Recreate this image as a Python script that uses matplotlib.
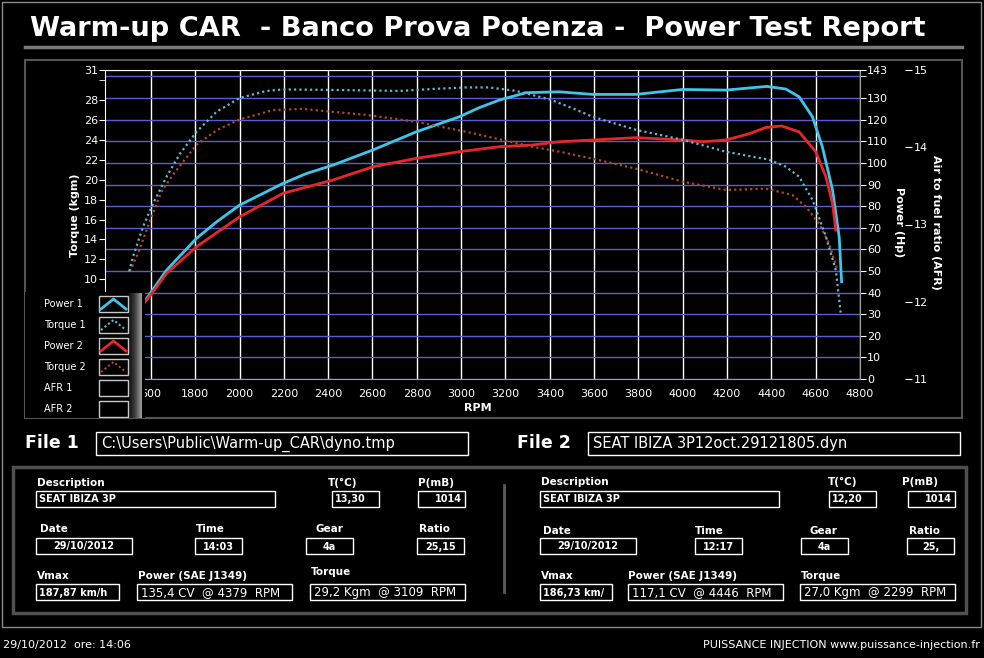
import matplotlib
matplotlib.use("Agg")
import numpy as np
import matplotlib.pyplot as plt
from matplotlib.patches import Rectangle
from matplotlib.colors import LinearSegmentedColormap
from matplotlib import font_manager

# dati
p1_rpm = [1520, 1550, 1671, 1806, 1900, 2001, 2196, 2300, 2422, 2602, 2798, 2993, 3080, 3173, 3293,
          3444, 3594, 3789, 3999, 4195, 4379, 4465, 4525, 4585, 4630, 4676, 4706, 4717]
p1_hp = [29.0, 32.7, 50.4, 65.1, 73.0, 80.5, 90.5, 95.0, 99.0, 106.0, 114.4, 121.4, 125.5, 129.1, 132.5,
         132.9, 131.7, 131.7, 134.0, 133.7, 135.4, 134.2, 130.6, 121.4, 107.5, 87.5, 65.8, 45.0]

t1_rpm = [1502, 1520, 1565, 1610, 1671, 1731, 1806, 1896, 2001, 2122, 2196, 2422, 2722, 2873, 3023,
          3128, 3248, 3399, 3504, 3594, 3789, 4000, 4195, 4390, 4465, 4525, 4585, 4646, 4691, 4713]
t1_kgm = [10.8, 12.3, 15.3, 17.6, 20.3, 22.6, 24.8, 26.8, 28.2, 28.9, 29.05, 29.0, 28.9, 29.1, 29.25,
          29.25, 28.9, 28.06, 27.15, 26.3, 25.0, 24.0, 22.8, 22.0, 21.3, 20.3, 18.0, 14.3, 10.9, 6.6]

p2_rpm = [1550, 1600, 1671, 1806, 2001, 2196, 2422, 2602, 2798, 2993, 3173, 3323, 3444, 3594, 3789,
          3999, 4090, 4195, 4300, 4375, 4446, 4525, 4600, 4646, 4676, 4691]
p2_hp = [32.7, 39.0, 48.9, 61.2, 75.1, 85.9, 92.1, 98.2, 102.1, 105.2, 107.5, 108.3, 109.8, 110.6, 111.7,
         110.6, 109.8, 110.6, 113.5, 116.4, 117.1, 114.4, 105.2, 93.6, 81.3, 68.9]

t2_rpm = [1505, 1540, 1590, 1648, 1700, 1806, 1900, 2001, 2151, 2287, 2422, 2572, 2798, 3023, 3203,
          3323, 3444, 3594, 3789, 4000, 4195, 4375, 4495, 4555, 4615, 4660, 4698]
t2_kgm = [10.8, 12.5, 15.5, 18.8, 20.5, 23.5, 25.0, 26.04, 26.98, 27.1, 26.8, 26.5, 25.8, 24.8, 23.9,
          23.3, 22.8, 22.1, 21.1, 19.8, 18.96, 19.1, 18.46, 17.3, 15.6, 13.6, 10.9]

rpm_ticks = list(range(1600, 4801, 200))
rpm_labels = ["600"] + [str(v) for v in range(1800, 4801, 200)]
power_ticks = [0, 10, 20, 30, 40, 50, 60, 70, 80, 90, 100, 110, 120, 130, 143]
torque_ticks = [10, 12, 14, 16, 18, 20, 22, 24, 26, 28, 31]
afr_ticks = [11, 12, 13, 14, 15]

legend_names = ["Power 1", "Torque 1", "Power 2", "Torque 2", "AFR 1", "AFR 2"]

title = "Warm-up CAR  - Banco Prova Potenza -  Power Test Report"
file1 = "C:\\Users\\Public\\Warm-up_CAR\\dyno.tmp"
file2 = "SEAT IBIZA 3P12oct.29121805.dyn"
values1 = ["SEAT IBIZA 3P", "13,30", "1014", "29/10/2012", "14:03", "4a", "25,15",
           "187,87 km/h", "135,4 CV  @ 4379  RPM", "29,2 Kgm  @ 3109  RPM"]
values2 = ["SEAT IBIZA 3P", "12,20", "1014", "29/10/2012", "12:17", "4a", "25,",
           "186,73 km/", "117,1 CV  @ 4446  RPM", "27,0 Kgm  @ 2299  RPM"]
field_names = ["Description", "T(°C)", "P(mB)", "Date", "Time", "Gear", "Ratio",
               "Vmax", "Power (SAE J1349)", "Torque"]

C_P1 = "#3ec6ea"
C_T1 = "#62b6d6"
C_P2 = "#e8262a"
C_T2 = "#b0482e"
GRID_H = "#5c5cd0"

W, H = 984, 658
fig = plt.figure(figsize=(9.84, 6.58), dpi=100, facecolor="black")


def rect(x0, y0, x1, y1):
    return [x0 / W, 1 - y1 / H, (x1 - x0) / W, (y1 - y0) / H]


names = {f.name for f in font_manager.fontManager.ttflist}
narrow = "Liberation Sans Narrow" if "Liberation Sans Narrow" in names else "DejaVu Sans"

# sfondo in pixel
bg = fig.add_axes([0, 0, 1, 1])
bg.set_xlim(0, W)
bg.set_ylim(H, 0)
bg.axis("off")

bg.add_patch(Rectangle((2, 2), 979, 625, fill=False, ec="#8a8a8a", lw=1))
bg.plot([25, 962], [47, 47], color="#7a7a7a", lw=2.5)
bg.add_patch(Rectangle((25, 60), 937, 358, fill=False, ec="#555555", lw=1.5))
bg.add_patch(Rectangle((13, 467), 953, 146, fill=False, ec="#505050", lw=2.5))
bg.plot([504, 504], [485, 592], color="#5a5a5a", lw=2)

t = bg.text(30, 29, title, color="white", fontsize=20, fontweight="bold",
            family=narrow, ha="left", va="center")
r = fig.canvas.get_renderer()
t.set_fontsize(20 * 895 / t.get_window_extent(r).width)

# grafico principale (potenza)
ax = fig.add_axes(rect(105, 70, 860, 379))
ax.set_zorder(2)
ax.set_facecolor("black")
ax.set_xlim(1393, 4800)
ax.set_ylim(0, 143)
ax.set_xticks(rpm_ticks)
ax.set_xticklabels(rpm_labels)
ax.tick_params(axis="x", length=0, pad=7, labelsize=8, labelcolor="white")
ax.grid(axis="x", color="white", lw=1)
ax.set_yticks(power_ticks)
ax.set_yticks([140], minor=True)
ax.grid(axis="y", which="both", color=GRID_H, lw=1)
ax.set_axisbelow(True)
for s in ["top", "left"]:
    ax.spines[s].set_color("white")
for s in ["bottom", "right"]:
    ax.spines[s].set_color("#a0a0a0")

ax.plot(p1_rpm, p1_hp, color=C_P1, lw=2)
ax.plot(p2_rpm, p2_hp, color=C_P2, lw=2)

# coppia
axt = ax.twinx()
axt.set_ylim(0, 31)
axt.set_yticks(torque_ticks)
axt.set_yticks([30], minor=True)
for s in axt.spines.values():
    s.set_visible(False)
axt.plot(t2_rpm, t2_kgm, color=C_T2, lw=1.6, ls=(0, (1, 1.4)))
axt.plot(t1_rpm, t1_kgm, color=C_T1, lw=1.6, ls=(0, (1, 1.4)))

# AFR
afr = ax.twinx()
afr.set_ylim(11, 15)
afr.spines["right"].set_position(("axes", 1.0596))
for s in afr.spines.values():
    s.set_visible(False)
afr.set_yticks(afr_ticks)
afr.tick_params(axis="y", length=5, color="white", labelsize=8, labelcolor="white", pad=1)

# twinx rimette i tick a sinistra: li risistemo qui
ax.yaxis.tick_right()
ax.tick_params(axis="y", which="both", length=4, color="white", labelsize=8,
               labelcolor="white", pad=1)
axt.yaxis.tick_left()
axt.tick_params(axis="y", which="both", length=4, color="white", labelsize=8,
                labelcolor="white", pad=1)

bg.text(75, 215, "Torque (kgm)", rotation=90, ha="center", va="center",
        color="white", fontsize=8, fontweight="bold")
bg.text(899, 222, "Power (Hp)", rotation=270, ha="center", va="center",
        color="white", fontsize=8, fontweight="bold")
bg.text(936, 222, "Air to fuel ratio (AFR)", rotation=270, ha="center", va="center",
        color="white", fontsize=8, fontweight="bold")
bg.text(478, 408, "RPM", ha="center", va="center", color="white",
        fontsize=8, fontweight="bold")

# legenda
lg = fig.add_axes(rect(25, 292, 145, 418))
lg.set_zorder(5)
lg.set_facecolor("black")
grad = LinearSegmentedColormap.from_list("g", ["#000000", "#3a3a3a", "#a0a0a0"])
lg.imshow(np.linspace(0, 1, 50)[None, :], cmap=grad, extent=(127, 142, 418, 293), aspect="auto")
lg.set_xlim(25, 145)
lg.set_ylim(418, 292)
lg.set_xticks([])
lg.set_yticks([])
for s in lg.spines.values():
    s.set_visible(False)

styles = [(C_P1, "-"), (C_T1, ":"), (C_P2, "-"), (C_T2, ":"), (None, None), (None, None)]
for i, (name, (c, ls)) in enumerate(zip(legend_names, styles)):
    yc = 304 + i * 21
    lg.text(44, yc, name, color="white", fontsize=7, va="center", ha="left")
    lg.add_patch(Rectangle((99, yc - 8), 29, 16, fill=False, ec="#c8c8c8", lw=1))
    if c:
        lg.plot([101, 113.5, 126], [yc + 5, yc - 5, yc + 5], color=c, lw=2 if ls == "-" else 1.5,
                ls="-" if ls == "-" else (0, (1, 1.2)))

# riquadri file
for lab, lx, box, txt in [("File 1", 25, (96, 432, 468, 455), file1),
                          ("File 2", 517, (588, 432, 960, 455), file2)]:
    bg.text(lx, 443, lab, color="white", fontsize=12.5, fontweight="bold", va="center")
    bg.add_patch(Rectangle((box[0], box[1]), box[2] - box[0], box[3] - box[1],
                           fill=False, ec="white", lw=1))
    bg.text(box[0] + 5, (box[1] + box[3]) / 2, txt, color="white", fontsize=10.5, va="center")

lay1 = [((37, 483), (36, 491, 275, 507)), ((328, 483), (332, 491, 379, 507)),
        ((418, 483), (418, 491, 465, 507)), ((40, 529), (36, 538, 132, 554)),
        ((196, 529), (195, 538, 242, 554)), ((315, 529), (306, 538, 353, 554)),
        ((419, 529), (417, 538, 464, 554)), ((37, 576), (36, 584, 119, 600)),
        ((138, 576), (137, 584, 292, 600)), ((311, 572), (310, 584, 465, 600))]
lay2 = [((541, 482), (540, 491, 779, 507)), ((828, 482), (829, 491, 876, 507)),
        ((902, 482), (908, 491, 955, 507)), ((543, 531), (540, 538, 636, 554)),
        ((695, 531), (695, 538, 742, 554)), ((810, 531), (801, 538, 848, 554)),
        ((909, 531), (907, 538, 954, 554)), ((541, 576), (540, 584, 612, 600)),
        ((628, 576), (628, 584, 783, 600)), ((801, 576), (800, 584, 955, 600))]
aligns = ["left", "left", "right", "center", "center", "center", "center", "left", "left", "left"]

for lay, vals in [(lay1, values1), (lay2, values2)]:
    for i, ((lx, ly), (x0, y0, x1, y1)) in enumerate(lay):
        bg.text(lx, ly, field_names[i], color="white", fontsize=7.5, fontweight="bold",
                va="center", ha="left")
        bg.add_patch(Rectangle((x0, y0), x1 - x0, y1 - y0, fill=False, ec="white", lw=1))
        a = aligns[i]
        tx = {"left": x0 + 3, "right": x1 - 3, "center": (x0 + x1) / 2}[a]
        if i >= 8:
            bg.text(x0 + 4, (y0 + y1) / 2 + 0.5, vals[i], color="white", fontsize=8.5,
                    va="center", ha="left")
        else:
            bg.text(tx, (y0 + y1) / 2 + 0.5, vals[i], color="white", fontsize=7,
                    fontweight="bold", va="center", ha=a)

bg.text(3, 645, "29/10/2012  ore: 14:06", color="white", fontsize=8, va="center", family=narrow)
bg.text(980, 645, "PUISSANCE INJECTION www.puissance-injection.fr", color="white",
        fontsize=8, va="center", ha="right", family=narrow)

fig.savefig("out.png", dpi=100, facecolor="black")
